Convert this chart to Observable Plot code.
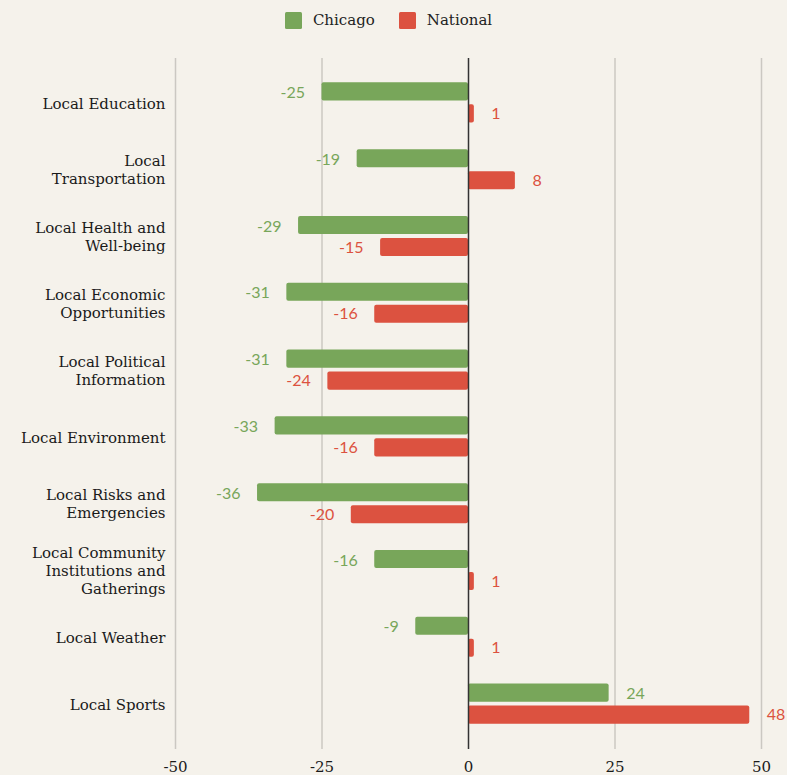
<!DOCTYPE html>
<html>
<head>
<meta charset="utf-8">
<script src="https://cdn.jsdelivr.net/npm/d3@7"></script>
<script src="https://cdn.jsdelivr.net/npm/@observablehq/plot@0.6"></script>
<style>
  html, body { margin: 0; padding: 0; background: #f5f2eb; }
  #legend { height: 40px; display: flex; justify-content: center; align-items: center; gap: 24px;
    font-family: "DejaVu Serif", serif; font-size: 15px; color: #222; padding-right: 10px; }
  .item { display: flex; align-items: center; gap: 11px; }
  .sw { width: 17px; height: 17px; border-radius: 1.5px; }
  #chart svg { display: block; }
</style>
</head>
<body>
<div id="legend"></div>
<div id="chart"></div>
<script>
const categories = [
  "Local Education", "Local Transportation", "Local Health and Well-being",
  "Local Economic Opportunities", "Local Political Information", "Local Environment",
  "Local Risks and Emergencies", "Local Community Institutions and Gatherings",
  "Local Weather", "Local Sports"
];
const categoryLabels = [
  "Local Education", "Local\nTransportation", "Local Health and\nWell-being",
  "Local Economic\nOpportunities", "Local Political\nInformation", "Local Environment",
  "Local Risks and\nEmergencies", "Local Community\nInstitutions and\nGatherings",
  "Local Weather", "Local Sports"
];
const chicago  = [-25, -19, -29, -31, -31, -33, -36, -16, -9, 24];
const national = [1, 8, -15, -16, -24, -16, -20, 1, 1, 48];
const seriesNames = ["Chicago", "National"];
const seriesColors = ["#78a65a", "#dc5240"];
const xTicks = [-50, -25, 0, 25, 50];

const legend = document.getElementById("legend");
seriesNames.forEach((s, i) => {
  const it = document.createElement("div");
  it.className = "item";
  it.innerHTML = `<div class="sw" style="background:${seriesColors[i]}"></div><span>${s}</span>`;
  legend.appendChild(it);
});

const labelOf = new Map(categories.map((c, i) => [c, categoryLabels[i]]));
const chiData = categories.map((c, i) => ({category: c, value: chicago[i]}));
const natData = categories.map((c, i) => ({category: c, value: national[i]}));

const valueFont = {fontFamily: "Lato, sans-serif", fontSize: 16};

function valueLabels(data, color, dy) {
  return [
    Plot.text(data.filter(d => d.value >= 0), {x: "value", y: "category", text: d => String(d.value),
      dy, dx: 17, textAnchor: "start", fill: color, ...valueFont}),
    Plot.text(data.filter(d => d.value < 0), {x: "value", y: "category", text: d => String(d.value),
      dy, dx: -17, textAnchor: "end", fill: color, ...valueFont})
  ];
}

const chart = Plot.plot({
  width: 787,
  height: 735,
  marginLeft: 175,
  marginRight: 26,
  marginTop: 18,
  marginBottom: 26,
  style: {background: "transparent", fontFamily: "DejaVu Serif, serif", color: "#222"},
  x: {domain: [-50, 50]},
  y: {domain: categories, range: [29, 697], paddingInner: 0.4, paddingOuter: 0.2, round: false},
  marks: [
    Plot.ruleX(xTicks.filter(d => d !== 0), {stroke: "#cbc8c2", strokeWidth: 1.5}),
    Plot.barX(chiData, {x: "value", y: "category", fill: seriesColors[0], insetBottom: 22, rx: 2}),
    Plot.barX(natData, {x: "value", y: "category", fill: seriesColors[1], insetTop: 22, rx: 2}),
    Plot.ruleX([0], {stroke: "#333", strokeWidth: 1.5}),
    ...valueLabels(chiData, seriesColors[0], -10),
    ...valueLabels(natData, seriesColors[1], 11),
    Plot.axisY({tickSize: 0, tickPadding: 10, fontSize: 15, lineHeight: 1.2,
      tickFormat: d => labelOf.get(d), label: null, fill: "#1a1a1a"}),
    Plot.axisX({ticks: xTicks, tickSize: 0, tickPadding: 12, fontSize: 15, label: null,
      tickFormat: d => String(d), fill: "#1a1a1a"})
  ]
});
document.getElementById("chart").appendChild(chart);
</script>
</body>
</html>
